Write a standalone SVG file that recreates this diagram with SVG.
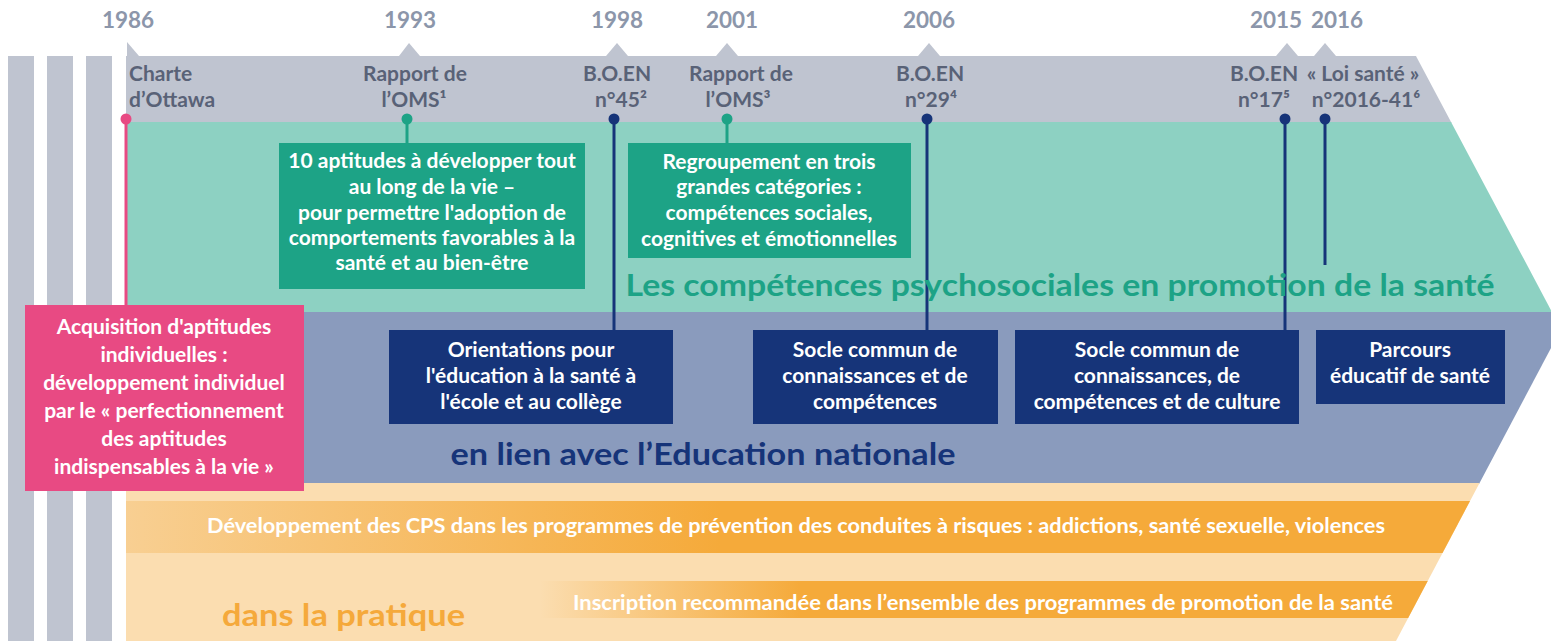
<svg xmlns="http://www.w3.org/2000/svg" width="1551" height="641" viewBox="0 0 1551 641">
<style>
text{font-family:Lato,"Open Sans","Liberation Sans",sans-serif;font-weight:bold}
.yr{font-size:22.5px;fill:#8C96AA;text-anchor:middle}
.hd{font-size:21px;fill:#596277;text-anchor:middle}
.st{text-anchor:start}
.bx{font-size:21px;fill:#ffffff;text-anchor:middle}
.tri{fill:#BFC4D0}
</style>
<defs>
<clipPath id="chev"><polygon points="126,56 1416,56 1561,329 1396,641 126,641"/></clipPath>
<linearGradient id="g1" gradientUnits="userSpaceOnUse" x1="126" y1="0" x2="720" y2="0">
<stop offset="0" stop-color="#F8CF92"/><stop offset="1" stop-color="#F5AA3A"/></linearGradient>
<linearGradient id="g2" gradientUnits="userSpaceOnUse" x1="540" y1="0" x2="800" y2="0">
<stop offset="0" stop-color="#F5AA3A" stop-opacity="0"/><stop offset="1" stop-color="#F5AA3A"/></linearGradient>
</defs>
<g id="side-bars" fill="#BFC4D0">
<rect x="8" y="56" width="26" height="585"/>
<rect x="47" y="56" width="26" height="585"/>
<rect x="86" y="56" width="26" height="585"/>
</g>
<g id="bands" clip-path="url(#chev)">
<rect x="126" y="56" width="1440" height="67" fill="#BFC4D0"/>
<rect x="126" y="122" width="1440" height="191" fill="#8DD1C2"/>
<rect x="126" y="312" width="1440" height="172" fill="#8A9BBD"/>
<rect x="126" y="483" width="1440" height="160" fill="#FBDDB0"/>
<rect x="126" y="501" width="1440" height="52" fill="url(#g1)"/>
<rect x="540" y="581" width="1000" height="37" fill="url(#g2)"/>
</g>
<g id="ticks">
<polygon class="tri" points="127,42 127,56 139,56"/>
<polygon class="tri" points="399,56 409,43 420,56"/>
<polygon class="tri" points="606,56 617,43 628,56"/>
<polygon class="tri" points="716,56 727,43 738,56"/>
<polygon class="tri" points="918,56 929,43 940,56"/>
<polygon class="tri" points="1276,56 1287,43 1298,56"/>
<polygon class="tri" points="1314,56 1325,43 1336,56"/>
</g>
<g id="years">
<text class="yr" x="128" y="28">1986</text>
<text class="yr" x="410" y="28">1993</text>
<text class="yr" x="617" y="28">1998</text>
<text class="yr" x="732" y="28">2001</text>
<text class="yr" x="929" y="28">2006</text>
<text class="yr" x="1276" y="28">2015</text>
<text class="yr" x="1337" y="28">2016</text>
</g>
<g id="connectors" stroke-width="3" fill="none">
<line x1="126" y1="119" x2="126" y2="306" stroke="#E84A83"/>
<line x1="407" y1="119" x2="407" y2="144" stroke="#1DA386"/>
<line x1="614" y1="119" x2="614" y2="331" stroke="#163479"/>
<line x1="727" y1="119" x2="727" y2="144" stroke="#1DA386"/>
<line x1="927" y1="119" x2="927" y2="331" stroke="#163479"/>
<line x1="1285" y1="119" x2="1285" y2="331" stroke="#163479"/>
<line x1="1325" y1="119" x2="1325" y2="265" stroke="#163479"/>
<circle cx="126" cy="119" r="5.5" fill="#E84A83" stroke="none"/>
<circle cx="407" cy="119" r="5.5" fill="#1DA386" stroke="none"/>
<circle cx="614" cy="119" r="5.5" fill="#163479" stroke="none"/>
<circle cx="727" cy="119" r="5.5" fill="#1DA386" stroke="none"/>
<circle cx="927" cy="119" r="5.5" fill="#163479" stroke="none"/>
<circle cx="1285" cy="119" r="5.5" fill="#163479" stroke="none"/>
<circle cx="1325" cy="119" r="5.5" fill="#163479" stroke="none"/>
</g>
<g id="label-1986"><text class="hd st" x="129" y="81">Charte</text><text class="hd st" x="129" y="107">d’Ottawa</text></g>
<g id="label-1993"><text class="hd" x="415" y="81">Rapport de</text><text class="hd" x="414" y="107">l’OMS¹</text></g>
<g id="label-1998"><text class="hd" x="617" y="81">B.O.EN</text><text class="hd" x="621" y="107">n°45²</text></g>
<g id="label-2001"><text class="hd" x="741" y="81">Rapport de</text><text class="hd" x="738" y="107">l’OMS³</text></g>
<g id="label-2006"><text class="hd" x="930" y="81">B.O.EN</text><text class="hd" x="931" y="107">n°29⁴</text></g>
<g id="label-2015"><text class="hd" x="1264" y="81">B.O.EN</text><text class="hd" x="1264" y="107">n°17⁵</text></g>
<g id="label-2016"><text class="hd" x="1363" y="81">« Loi santé »</text><text class="hd" x="1366" y="107">n°2016-41⁶</text></g>
<g id="box-oms1993">
<rect x="279" y="143" width="306" height="146" fill="#1DA386"/>
<text class="bx" x="432" y="168">10 aptitudes à développer tout</text>
<text class="bx" x="432" y="194">au long de la vie –</text>
<text class="bx" x="432" y="220">pour permettre l'adoption de</text>
<text class="bx" x="432" y="245">comportements favorables à la</text>
<text class="bx" x="432" y="270">santé et au bien-être</text>
</g>
<g id="box-oms2001">
<rect x="628" y="143" width="283" height="115" fill="#1DA386"/>
<text class="bx" x="769" y="169">Regroupement en trois</text>
<text class="bx" x="769" y="194">grandes catégories :</text>
<text class="bx" x="769" y="220">compétences sociales,</text>
<text class="bx" x="769" y="246">cognitives et émotionnelles</text>
</g>
<g id="title-cps"><text x="1060" y="296" font-size="30" fill="#1DA386" text-anchor="middle" textLength="869" lengthAdjust="spacingAndGlyphs">Les compétences psychosociales en promotion de la santé</text></g>
<g id="box-ottawa">
<rect x="25" y="305" width="279" height="186" fill="#E84A83"/>
<text class="bx" x="164" y="334">Acquisition d'aptitudes</text>
<text class="bx" x="164" y="362">individuelles :</text>
<text class="bx" x="164" y="390">développement individuel</text>
<text class="bx" x="164" y="418">par le « perfectionnement</text>
<text class="bx" x="164" y="446">des aptitudes</text>
<text class="bx" x="164" y="474">indispensables à la vie »</text>
</g>
<g id="box-boen1998">
<rect x="389" y="330" width="284" height="94" fill="#163479"/>
<text class="bx" x="531" y="357">Orientations pour</text>
<text class="bx" x="531" y="383">l'éducation à la santé à</text>
<text class="bx" x="531" y="409">l'école et au collège</text>
</g>
<g id="box-boen2006">
<rect x="753" y="330" width="245" height="94" fill="#163479"/>
<text class="bx" x="875" y="357">Socle commun de</text>
<text class="bx" x="875" y="383">connaissances et de</text>
<text class="bx" x="875" y="409">compétences</text>
</g>
<g id="box-boen2015">
<rect x="1015" y="330" width="284" height="94" fill="#163479"/>
<text class="bx" x="1157" y="357">Socle commun de</text>
<text class="bx" x="1157" y="383">connaissances, de</text>
<text class="bx" x="1157" y="409">compétences et de culture</text>
</g>
<g id="box-loi2016">
<rect x="1316" y="330" width="189" height="74" fill="#163479"/>
<text class="bx" x="1410" y="357">Parcours</text>
<text class="bx" x="1410" y="383">éducatif de santé</text>
</g>
<g id="title-en"><text x="703" y="465" font-size="30" fill="#163479" text-anchor="middle" textLength="505" lengthAdjust="spacingAndGlyphs">en lien avec l’Education nationale</text></g>
<g id="bar-prevention"><text class="bx" x="796" y="533" textLength="1178" lengthAdjust="spacingAndGlyphs">Développement des CPS dans les programmes de prévention des conduites à risques : addictions, santé sexuelle, violences</text></g>
<g id="bar-promotion"><text class="bx" x="983" y="610" textLength="820" lengthAdjust="spacingAndGlyphs">Inscription recommandée dans l’ensemble des programmes de promotion de la santé</text></g>
<g id="title-pratique"><text x="222" y="626" font-size="30" fill="#F5A93B" textLength="243" lengthAdjust="spacingAndGlyphs">dans la pratique</text></g>
</svg>
